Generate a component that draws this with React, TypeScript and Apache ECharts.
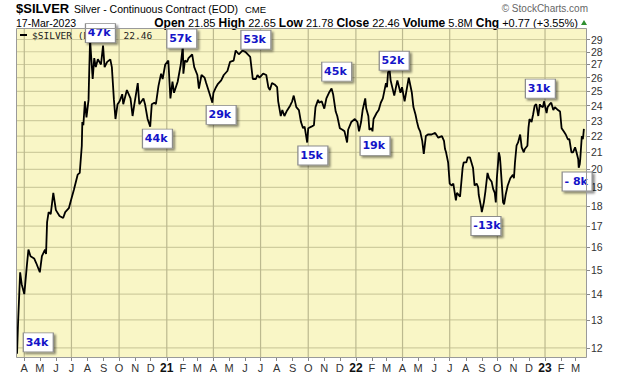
import React, { useEffect, useRef } from 'react';
import * as echarts from 'echarts';

const dates = [
  '2020-03-18','2020-03-20','2020-03-24','2020-03-27','2020-04-01','2020-04-06','2020-04-09','2020-04-13','2020-04-20','2020-04-24',
  '2020-05-01','2020-05-05','2020-05-11','2020-05-13','2020-05-15','2020-05-18','2020-05-22','2020-05-27','2020-06-01','2020-06-08',
  '2020-06-15','2020-06-19','2020-06-26','2020-06-30','2020-07-06','2020-07-13','2020-07-17','2020-07-21','2020-07-22','2020-07-24',
  '2020-07-27','2020-07-30','2020-08-03','2020-08-04','2020-08-06','2020-08-07','2020-08-11','2020-08-14','2020-08-17','2020-08-21',
  '2020-08-27','2020-08-31','2020-09-03','2020-09-08','2020-09-14','2020-09-17','2020-09-21','2020-09-24','2020-09-28','2020-10-02',
  '2020-10-07','2020-10-09','2020-10-16','2020-10-23','2020-10-27','2020-10-30','2020-11-06','2020-11-09','2020-11-17','2020-11-20',
  '2020-11-25','2020-11-30','2020-12-03','2020-12-08','2020-12-11','2020-12-16','2020-12-21','2020-12-24','2020-12-29',
  '2021-01-04','2021-01-08','2021-01-12','2021-01-15','2021-01-22','2021-01-28','2021-02-01','2021-02-02','2021-02-05','2021-02-09',
  '2021-02-12','2021-02-19','2021-02-23','2021-03-01','2021-03-04','2021-03-09','2021-03-15','2021-03-18','2021-03-24','2021-03-30',
  '2021-04-01','2021-04-06','2021-04-09','2021-04-16','2021-04-21','2021-04-28','2021-05-03','2021-05-10','2021-05-14','2021-05-20',
  '2021-05-27','2021-06-01','2021-06-04','2021-06-11','2021-06-16','2021-06-22','2021-06-25','2021-06-29','2021-07-06','2021-07-12',
  '2021-07-16','2021-07-19','2021-07-23','2021-07-28','2021-08-02','2021-08-04','2021-08-09','2021-08-12','2021-08-16','2021-08-20',
  '2021-08-27','2021-08-31','2021-09-03','2021-09-08','2021-09-13','2021-09-17','2021-09-21','2021-09-24','2021-09-29','2021-10-01',
  '2021-10-07','2021-10-12','2021-10-15','2021-10-20','2021-10-22','2021-10-27','2021-11-01','2021-11-05','2021-11-10','2021-11-15',
  '2021-11-18','2021-11-23','2021-11-26','2021-12-01','2021-12-06','2021-12-10','2021-12-15','2021-12-17','2021-12-23','2021-12-30',
  '2022-01-04','2022-01-07','2022-01-11','2022-01-14','2022-01-19','2022-01-21','2022-01-25','2022-01-27','2022-01-31','2022-02-02',
  '2022-02-04','2022-02-10','2022-02-14','2022-02-18','2022-02-22','2022-02-28','2022-03-02','2022-03-04','2022-03-07','2022-03-09',
  '2022-03-16','2022-03-22','2022-03-28','2022-03-31','2022-04-05','2022-04-13','2022-04-19','2022-04-22','2022-04-26','2022-04-29',
  '2022-05-02','2022-05-05','2022-05-09','2022-05-12','2022-05-16','2022-05-20','2022-05-27','2022-06-03','2022-06-09','2022-06-16',
  '2022-06-20','2022-06-22','2022-06-24','2022-06-28','2022-07-01','2022-07-05','2022-07-08','2022-07-13','2022-07-15','2022-07-21',
  '2022-07-26','2022-07-28','2022-08-02','2022-08-05','2022-08-09','2022-08-11','2022-08-15','2022-08-18','2022-08-22','2022-08-25',
  '2022-08-26','2022-08-31','2022-09-01','2022-09-05','2022-09-08','2022-09-12','2022-09-15','2022-09-20','2022-09-23','2022-09-26',
  '2022-09-28','2022-09-30','2022-10-04','2022-10-06','2022-10-07','2022-10-12','2022-10-14','2022-10-17','2022-10-21','2022-10-26',
  '2022-10-31','2022-11-02','2022-11-04','2022-11-07','2022-11-10','2022-11-14','2022-11-17','2022-11-21','2022-11-23','2022-11-28',
  '2022-11-30','2022-12-02','2022-12-06','2022-12-09','2022-12-12','2022-12-15','2022-12-19','2022-12-22','2022-12-23','2022-12-28',
  '2022-12-30','2023-01-04','2023-01-06','2023-01-10','2023-01-13','2023-01-17','2023-01-20','2023-01-23','2023-01-26','2023-01-30',
  '2023-02-02','2023-02-06','2023-02-10','2023-02-14','2023-02-17','2023-02-21','2023-02-24','2023-02-28','2023-03-02','2023-03-06',
  '2023-03-07','2023-03-08','2023-03-09','2023-03-10','2023-03-13','2023-03-14','2023-03-15','2023-03-16','2023-03-17'
];

const closes = [
  11.8,12.9,14.9,14.4,14.0,15.2,15.9,15.6,15.5,15.3,
  14.9,15.6,15.9,15.7,17.2,17.7,17.6,18.7,17.8,17.5,
  17.4,17.7,17.9,18.3,18.9,19.7,19.8,21.4,22.9,22.7,
  24.3,23.2,24.4,26.0,29.0,28.3,25.9,27.5,26.8,27.4,
  27.0,28.5,26.8,27.2,27.4,26.8,24.4,23.1,24.1,24.3,
  24.8,24.1,25.1,24.5,23.3,24.0,25.6,24.1,24.5,24.1,
  23.1,22.6,24.1,24.2,24.1,25.4,26.3,25.9,27.0,
  27.3,24.5,25.7,24.9,25.7,27.0,28.5,26.3,27.3,27.2,
  27.5,27.8,26.8,26.2,25.2,26.2,26.0,25.6,24.9,24.2,
  24.9,25.3,25.5,25.8,26.2,26.5,27.2,27.3,28.1,27.8,
  28.1,28.0,27.9,27.6,25.9,25.9,26.2,26.0,26.3,26.2,
  25.3,25.1,25.6,25.5,25.3,24.3,23.3,23.7,23.3,23.6,
  24.0,24.3,24.7,23.9,23.7,22.9,22.5,22.6,21.6,22.5,
  22.6,22.7,23.9,24.4,24.2,24.3,23.8,24.5,24.9,25.2,
  24.8,23.6,23.3,22.5,22.4,22.3,21.6,22.4,22.9,23.1,
  22.9,22.3,22.9,23.7,24.5,23.8,23.3,22.4,22.5,22.3,
  23.1,23.5,23.7,24.2,24.5,25.6,25.3,26.4,26.6,25.8,
  24.7,25.8,24.9,25.3,24.3,26.0,24.9,23.9,23.4,22.9,
  22.5,22.3,21.7,20.9,22.0,22.1,22.1,22.2,21.9,22.0,
  21.7,21.2,21.0,20.4,19.2,19.1,19.2,18.3,18.7,18.5,
  20.1,20.4,20.4,20.7,20.7,20.5,20.1,19.1,19.2,19.0,
  18.6,17.9,17.7,18.2,18.8,19.8,19.5,19.3,18.9,18.7,
  18.2,19.5,21.0,20.7,20.3,18.2,18.1,18.6,19.1,19.5,
  19.7,19.5,20.4,21.4,21.6,22.1,21.3,21.0,21.2,21.4,
  22.5,23.1,22.9,23.4,24.0,24.1,23.3,24.1,24.0,23.9,
  24.3,23.5,23.9,24.1,24.2,23.7,23.9,23.8,23.7,23.6,
  22.5,22.3,22.1,21.8,21.8,21.0,21.0,21.3,21.1,20.6,
  20.1,20.1,20.3,20.6,22.0,21.9,21.8,22.1,22.46
];

const priceTicks = [12, 13, 14, 15, 16, 17, 18, 19, 20, 21, 22, 23, 24, 25, 26, 27, 28, 29];

const monthTicks = [
  '2020-04-01','2020-05-01','2020-06-01','2020-07-01','2020-08-01','2020-09-01','2020-10-01','2020-11-01','2020-12-01',
  '2021-01-01','2021-02-01','2021-03-01','2021-04-01','2021-05-01','2021-06-01','2021-07-01','2021-08-01','2021-09-01',
  '2021-10-01','2021-11-01','2021-12-01','2022-01-01','2022-02-01','2022-03-01','2022-04-01','2022-05-01','2022-06-01',
  '2022-07-01','2022-08-01','2022-09-01','2022-10-01','2022-11-01','2022-12-01','2023-01-01','2023-02-01','2023-03-01'
];
const monthLabels = [
  'A','M','J','J','A','S','O','N','D',
  '21','F','M','A','M','J','J','A','S',
  'O','N','D','22','F','M','A','M','J',
  'J','A','S','O','N','D','23','F','M'
];
const quarterTicks = [
  '2020-04-01','2020-07-01','2020-10-01','2021-01-01','2021-04-01','2021-07-01',
  '2021-10-01','2022-01-01','2022-04-01','2022-07-01','2022-10-01','2023-01-01'
];

const volLabels = ['34k','47k','44k','57k','29k','53k','15k','45k','19k','52k','-13k','31k','- 8k'];
const volDates = ['2020-04-28','2020-08-26','2020-12-14','2021-01-30','2021-04-16','2021-06-22','2021-10-10','2021-11-25','2022-02-07','2022-03-16','2022-09-09','2022-12-23','2023-03-04'];
const volPrices = [12.19, 29.53, 21.84, 29.07, 23.37, 28.98, 20.81, 26.45, 21.39, 27.29, 17.01, 25.2, 19.32];

const W = 620;
const H = 376;
const GRID = { left: 16, right: 33, top: 28, bottom: 18 };
const SANS = 'Liberation Sans, Arial, sans-serif';

const ts = (s: string) => {
  const [y, m, d] = s.split('-').map(Number);
  return new Date(y, m - 1, d).getTime();
};

export default function App() {
  const ref = useRef<HTMLDivElement>(null);
  useEffect(() => {
    const chart = echarts.init(ref.current as HTMLDivElement, null, { renderer: 'svg', width: W, height: H });
    const lnTicks = priceTicks.map((v) => Math.log(v));
    const monthVals = monthTicks.map(ts);
    const labelByVal = new Map<number, string>();
    monthVals.forEach((v, i) => labelByVal.set(v, monthLabels[i]));
    const quarterVals = quarterTicks.map(ts);
    const yMin = Math.log(11.66);
    const yMax = Math.log(29.97);
    const xMin = ts('2020-03-16');
    const xMax = ts('2023-03-23');
    const lineData = dates.map((d, i) => [ts(d), Math.log(closes[i])]);
    const gw = W - GRID.left - GRID.right;
    const gh = H - GRID.top - GRID.bottom;

    const gridSeries = [
      ...lnTicks.map((v) => ({
        type: 'line', silent: true, z: 3, symbol: 'none', showSymbol: false, clip: false,
        data: [[xMin, v], [xMax, v]],
        lineStyle: { color: '#d0cd9e', width: 1.2, opacity: 1 },
      })),
      ...quarterVals.map((v) => ({
        type: 'line', silent: true, z: 3, symbol: 'none', showSymbol: false, clip: false,
        data: [[v, yMin], [v, yMax]],
        lineStyle: { color: '#bcb98f', width: 1.2, opacity: 1 },
      })),
    ];

    chart.setOption({
      animation: false,
      backgroundColor: '#ffffff',
      textStyle: { fontFamily: SANS },
      grid: { ...GRID, show: false },
      xAxis: {
        type: 'value',
        min: xMin,
        max: xMax,
        position: 'bottom',
        axisLine: { show: false },
        splitLine: { show: false },
        axisTick: { show: true, customValues: monthVals, length: 3, lineStyle: { color: '#888' } },
        axisLabel: {
          customValues: monthVals,
          margin: 4,
          fontSize: 11,
          color: '#333',
          fontFamily: SANS,
          hideOverlap: false,
          formatter: (v: number) => {
            let lab = labelByVal.get(v);
            if (lab === undefined) {
              let best = 0;
              let bd = Infinity;
              monthVals.forEach((mv, i) => {
                const dd = Math.abs(mv - v);
                if (dd < bd) { bd = dd; best = i; }
              });
              lab = monthLabels[best];
            }
            return /\d/.test(lab) ? `{y|${lab}}` : lab;
          },
          rich: { y: { fontWeight: 'bold', fontSize: 12, color: '#111', fontFamily: SANS } },
        },
      },
      yAxis: {
        type: 'value',
        min: yMin,
        max: yMax,
        position: 'right',
        axisLine: { show: false },
        splitLine: { show: false },
        axisTick: { show: true, customValues: lnTicks, length: 3, lineStyle: { color: '#888' } },
        axisLabel: {
          customValues: lnTicks,
          margin: 4,
          fontSize: 10.5,
          color: '#333',
          fontFamily: SANS,
          formatter: (v: number) => String(Math.round(Math.exp(v))),
        },
      },
      series: [
        ...gridSeries,
        {
          type: 'line',
          name: '$SILVER',
          z: 4,
          data: lineData,
          showSymbol: false,
          symbol: 'none',
          lineStyle: { color: '#000', width: 1.8 },
          clip: true,
          markPoint: {
            symbol: 'rect',
            symbolSize: [30, 19],
            silent: true,
            itemStyle: {
              color: '#ffffff',
              borderColor: '#8c8c8c',
              borderWidth: 1,
              shadowColor: 'rgba(0,0,0,0.45)',
              shadowBlur: 2,
              shadowOffsetX: 2,
              shadowOffsetY: 2,
            },
            label: {
              show: true,
              position: [3, 9.5],
              align: 'left',
              verticalAlign: 'middle',
              formatter: (p: any) => p.name,
              color: '#1414c8',
              fontWeight: 'bold',
              fontSize: 11,
              fontFamily: 'DejaVu Sans, Verdana, sans-serif',
            },
            data: volLabels.map((n, i) => ({ name: n, coord: [ts(volDates[i]), Math.log(volPrices[i])] })),
          },
        },
      ],
      graphic: [
        { type: 'rect', z: -100, silent: true, shape: { x: GRID.left, y: GRID.top, width: gw, height: gh }, style: { fill: '#f9f6c6' } },
        { type: 'rect', z: 100, silent: true, shape: { x: GRID.left + 0.5, y: GRID.top + 0.5, width: gw - 1, height: gh - 1 }, style: { fill: 'none', stroke: '#9a9a9a', lineWidth: 1 } },
        { type: 'text', x: 16, y: 8.5, style: { text: '$SILVER', font: `bold 13px ${SANS}`, fill: '#000', verticalAlign: 'middle' } },
        { type: 'text', x: 74, y: 9, style: { text: 'Silver - Continuous Contract (EOD)', font: `10.5px ${SANS}`, fill: '#000', verticalAlign: 'middle' } },
        { type: 'text', x: 245, y: 9.5, style: { text: 'CME', font: `9.5px ${SANS}`, fill: '#000', verticalAlign: 'middle' } },
        { type: 'text', x: 588, y: 8, style: { text: '© StockCharts.com', font: `10px ${SANS}`, fill: '#666', align: 'right', verticalAlign: 'middle' } },
        { type: 'text', x: 16, y: 23, style: { text: '17-Mar-2023', font: `10.5px ${SANS}`, fill: '#000', verticalAlign: 'middle' } },
        {
          type: 'text', x: 578, y: 23,
          style: {
            text: '{b|Open} {n|21.85} {b|High} {n|22.65} {b|Low} {n|21.78} {b|Close} {n|22.46} {b|Volume} {n|5.8M} {b|Chg} {n|+0.77 (+3.55%)}',
            align: 'right', verticalAlign: 'middle', font: `11px ${SANS}`, fill: '#000',
            rich: {
              b: { fontWeight: 'bold', fontSize: 12, fontFamily: SANS, fill: '#000' },
              n: { fontSize: 11, fontFamily: SANS, fill: '#000' },
            },
          },
        },
        { type: 'polygon', shape: { points: [[581, 25], [587, 25], [584, 20]] }, style: { fill: '#2f8f2f' } },
        { type: 'line', z: 5, shape: { x1: 20, y1: 35, x2: 27, y2: 35 }, style: { stroke: '#000', lineWidth: 2 } },
        { type: 'text', z: 5, x: 32, y: 35, style: { text: '$SILVER (Daily) 22.46', font: '9.5px DejaVu Sans Mono, monospace', fill: '#222', verticalAlign: 'middle' } },
      ],
    });
    return () => chart.dispose();
  }, []);
  return <div ref={ref} style={{ position: 'absolute', left: 0, top: 0, width: W, height: H, background: '#fff' }} />;
}
